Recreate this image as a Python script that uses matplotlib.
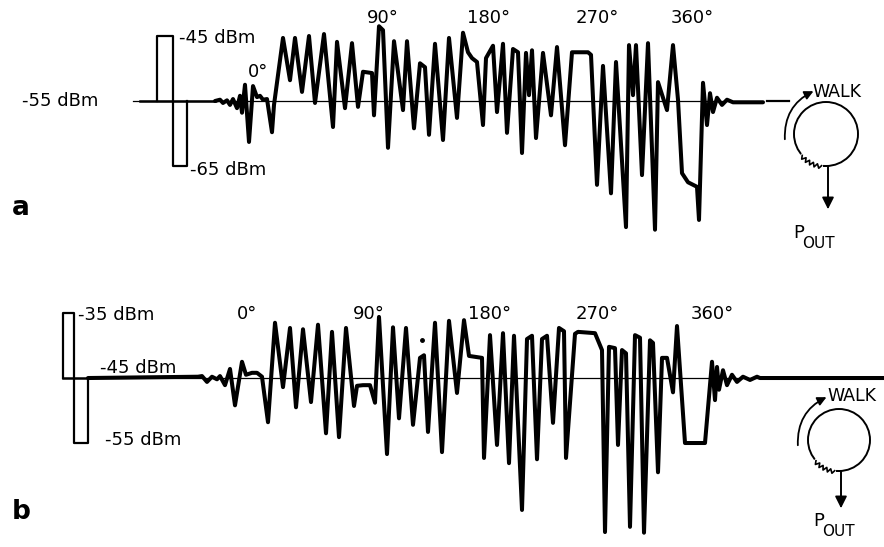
import numpy as np
import matplotlib
matplotlib.use("Agg")
import matplotlib.pyplot as plt
from matplotlib.patches import Circle, FancyArrowPatch

# trace a: reference level -55 dBm, calibration pulse +-10 dB
pos_a = [215, 220, 223, 227, 230, 233, 237, 240, 242, 245, 249, 253, 257, 260, 263, 267,
         272, 274, 283, 290, 295, 302, 309, 315, 324, 333, 337, 345, 352, 358, 363, 372,
         374, 379, 383, 388, 394, 403, 407, 414, 420, 425, 429, 435, 443, 449, 457, 463,
         468, 472, 477, 483, 486, 493, 497, 503, 507, 513, 518, 522, 526, 529, 532, 536,
         543, 551, 557, 565, 572, 588, 591, 597, 603, 611, 616, 626, 629, 633, 636, 642,
         648, 655, 658, 667, 673, 678, 682, 688, 697, 699, 703, 707, 710, 713, 717, 722,
         727, 733, 763]
dbm_a = [-55.0, -54.8, -55.3, -54.9, -55.6, -54.7, -56.1, -54.2, -56.8, -52.5, -61.3, -52.7,
         -54.4, -54.2, -54.8, -54.7, -59.8, -55.6, -45.3, -51.8, -45.3, -53.6, -45.0, -55.3,
         -44.7, -59.0, -45.9, -56.1, -46.1, -55.9, -50.5, -50.7, -57.2, -43.5, -44.1, -62.2,
         -45.8, -56.4, -45.8, -59.2, -49.2, -49.8, -60.2, -46.2, -61.0, -45.3, -57.6, -44.5,
         -47.5, -48.4, -49.0, -58.7, -48.4, -46.5, -56.7, -46.2, -59.9, -47.0, -47.5, -63.0,
         -47.6, -54.1, -47.2, -60.7, -47.6, -57.2, -46.7, -61.8, -47.5, -47.5, -47.9, -67.9,
         -49.6, -69.2, -49.0, -74.4, -46.4, -54.1, -46.4, -66.4, -46.1, -74.8, -52.1, -56.4,
         -46.4, -54.8, -66.1, -67.5, -68.2, -73.3, -52.2, -58.7, -53.8, -56.7, -54.5, -55.6,
         -54.8, -55.2, -55.2]

# trace b: reference level -45 dBm
pos_b = [88, 198, 202, 207, 212, 217, 220, 225, 230, 235, 242, 246, 252, 257, 262, 268,
         275, 283, 290, 296, 303, 311, 318, 326, 332, 339, 346, 354, 357, 363, 370, 375,
         379, 387, 393, 399, 406, 413, 420, 424, 428, 435, 442, 449, 457, 464, 469, 482,
         484, 490, 497, 503, 509, 514, 522, 527, 532, 537, 542, 547, 553, 559, 564, 566,
         575, 578, 595, 602, 605, 609, 615, 618, 622, 626, 630, 635, 640, 644, 650, 653,
         658, 662, 667, 673, 677, 685, 705, 712, 715, 717, 719, 723, 727, 732, 737, 743,
         750, 757, 760, 884]
dbm_b = [-45.0, -44.8, -44.7, -45.6, -44.8, -45.2, -44.7, -46.1, -43.6, -49.2, -42.5, -44.5,
         -44.2, -44.2, -44.8, -51.8, -36.5, -46.4, -37.3, -49.5, -37.5, -48.7, -36.8, -53.5,
         -37.9, -54.1, -37.3, -49.3, -46.2, -46.1, -46.1, -48.8, -35.6, -56.7, -37.2, -51.2,
         -37.3, -52.2, -41.9, -41.5, -53.3, -36.5, -56.4, -36.2, -47.3, -36.1, -41.6, -41.9,
         -57.3, -38.4, -55.3, -38.1, -58.1, -38.5, -65.3, -39.0, -38.5, -57.5, -39.0, -38.5,
         -51.9, -37.3, -37.8, -57.3, -38.2, -37.9, -38.1, -40.7, -68.7, -40.2, -40.4, -55.3,
         -40.7, -41.2, -67.9, -38.4, -38.8, -68.8, -39.2, -39.6, -59.5, -41.9, -41.9, -47.2,
         -37.0, -55.0, -55.0, -42.5, -48.4, -43.3, -46.8, -43.8, -46.1, -44.5, -45.6, -44.8,
         -45.3, -44.8, -45.0, -45.0]

phase_labels = ["0°", "90°", "180°", "270°", "360°"]
phase_pos_a = [258, 383, 489, 597, 692]
phase_pos_b = [247, 369, 490, 597, 712]

ref_a, cal_a = -55, (-45, -65)
ref_b, cal_b = -45, (-35, -55)

fig = plt.figure(figsize=(8.84, 5.47), dpi=100)
H = 547.0
ax_a = fig.add_axes([0, 1 - 270 / H, 1, 270 / H])
ax_b = fig.add_axes([0, 0, 1, 277 / H])
ax_a.set_xlim(0, 884)
ax_a.set_ylim(-81.0, -39.46)
ax_b.set_xlim(0, 884)
ax_b.set_ylim(-71.0, -28.38)
for ax in (ax_a, ax_b):
    ax.axis("off")

ink = "black"
fs = 13

# panel a
ax_a.plot([133, 763], [ref_a, ref_a], color=ink, lw=0.9)
ax_a.plot([767, 789], [ref_a, ref_a], color=ink, lw=1.6)
ax_a.plot([140, 215], [ref_a, ref_a], color=ink, lw=1.8)
ax_a.plot([157, 157, 173, 173, 187, 187], [ref_a, cal_a[0], cal_a[0], cal_a[1], cal_a[1], ref_a],
          color=ink, lw=1.6)
ax_a.plot(pos_a, dbm_a, color=ink, lw=2.9, solid_joinstyle="round", solid_capstyle="round")
ax_a.text(179, cal_a[0] - 0.3, "-45 dBm", fontsize=fs, va="center", ha="left")
ax_a.text(190, cal_a[1] - 0.6, "-65 dBm", fontsize=fs, va="center", ha="left")
ax_a.text(22, ref_a, "-55 dBm", fontsize=fs, va="center", ha="left")
for lab, x, y in zip(phase_labels, phase_pos_a, [-50.5, -42.2, -42.2, -42.2, -42.2]):
    ax_a.text(x, y, lab, fontsize=fs, ha="center", va="center")

# panel b
ax_b.plot([88, 760], [ref_b, ref_b], color=ink, lw=0.9)
ax_b.plot([63, 63, 74, 74, 88, 88], [ref_b, cal_b[0], cal_b[0], cal_b[1], cal_b[1], ref_b],
          color=ink, lw=1.6)
ax_b.plot([63, 88], [ref_b, ref_b], color=ink, lw=1.8)
ax_b.plot(pos_b, dbm_b, color=ink, lw=2.9, solid_joinstyle="round", solid_capstyle="round")
ax_b.plot([422], [-39.1], "o", color=ink, ms=2.5)
ax_b.text(78, cal_b[0] - 0.3, "-35 dBm", fontsize=fs, va="center", ha="left")
ax_b.text(100, -43.5, "-45 dBm", fontsize=fs, va="center", ha="left")
ax_b.text(105, cal_b[1] + 0.5, "-55 dBm", fontsize=fs, va="center", ha="left")
for lab, x in zip(phase_labels, phase_pos_b):
    ax_b.text(x, -35.2, lab, fontsize=fs, ha="center", va="center")

# overlay in pixel units for the walk diagrams and panel letters
ov = fig.add_axes([0, 0, 1, 1])
ov.set_xlim(0, 884)
ov.set_ylim(547, 0)
ov.axis("off")
ov.patch.set_alpha(0)


def walk(cx, cy, r, tip_y, wx, wy, px, py):
    ov.add_patch(Circle((cx, cy), r, fill=False, lw=1.4, color=ink))
    # small resistor zigzag on the lower left of the ring
    t = np.deg2rad(np.linspace(222, 262, 11))
    rr = np.array([r, r + 3, r - 1, r + 3, r - 1, r + 3, r - 1, r + 3, r - 1, r + 3, r])
    ov.plot(cx + r * np.cos(t), cy - r * np.sin(t), color="white", lw=2.5)
    ov.plot(cx + rr * np.cos(t), cy - rr * np.sin(t), color=ink, lw=1.2)
    ov.plot([cx - 2, cx + 2, cx + 2], [cy + r, cy + r, tip_y - 16], color=ink, lw=1.4)
    ov.add_patch(FancyArrowPatch((cx + 2, tip_y - 18), (cx + 2, tip_y), arrowstyle="-|>",
                                 mutation_scale=18, color=ink, lw=1.2))
    ov.add_patch(FancyArrowPatch((cx - 41, cy + 8), (cx - 10, cy - 44),
                                 connectionstyle="arc3,rad=-0.35", arrowstyle="-|>",
                                 mutation_scale=13, color=ink, lw=1.3))
    ov.text(wx, wy, "WALK", fontsize=12.5, ha="left", va="center")
    ov.text(px, py, "P", fontsize=13, ha="left", va="center")
    ov.text(px + 9, py + 11, "OUT", fontsize=11, ha="left", va="center")


walk(826, 134, 32, 212, 812, 92, 793, 233)
walk(839, 440, 31, 511, 827, 396, 813, 521)

ov.text(12, 208, "a", fontsize=19, fontweight="bold", ha="left", va="center")
ov.text(12, 512, "b", fontsize=19, fontweight="bold", ha="left", va="center")

fig.savefig("out.png", dpi=100)
